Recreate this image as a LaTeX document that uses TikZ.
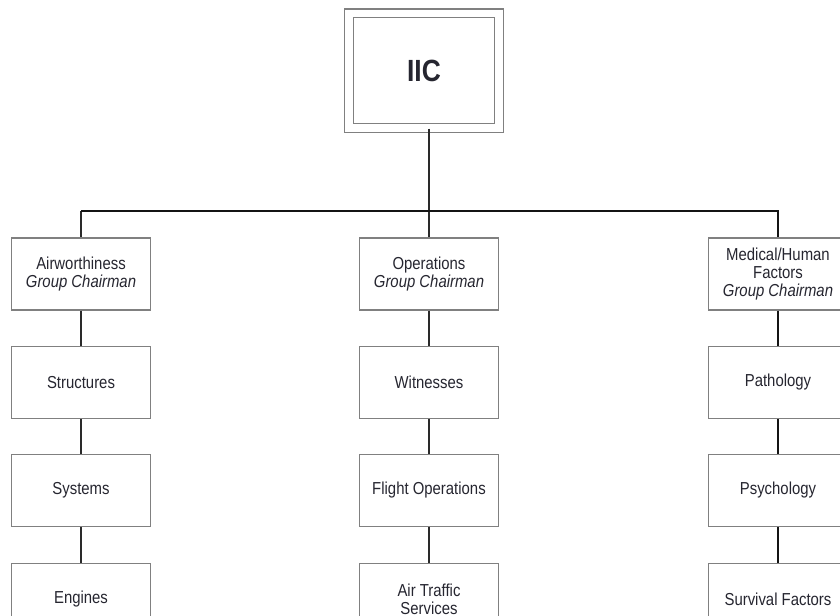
\documentclass[tikz,border=0pt]{standalone}
\usepackage{fontspec}
\setmainfont{Liberation Sans}[FakeStretch=0.86]
\definecolor{boxgray}{HTML}{808080}
\definecolor{txt}{HTML}{262630}
\definecolor{lnk}{HTML}{2A2A2A}
\begin{document}
\begin{tikzpicture}[x=0.75pt,y=-0.75pt,
  box/.style={draw=boxgray, line width=1.1pt, fill=white, minimum width=104pt, minimum height=54pt,
    inner sep=0pt, align=center, font=\fontsize{13}{13.8}\selectfont, text=txt},
  topbox/.style={draw=boxgray, line width=1.1pt, double=white, double distance=5.5pt,
    minimum width=112.5pt, minimum height=86pt, inner sep=0pt, text=txt,
    font=\fontsize{23}{26}\selectfont\bfseries},
  thinlink/.style={draw=lnk, line width=1.1pt},
  thicklink/.style={draw=black!92, line width=2.2pt}]
\useasboundingbox (0,0) rectangle (840,615);
\clip (0,0) rectangle (840,615);

\node[topbox] (iic) at (424,70.5) {IIC};

% left column
\node[box] (a1) at (81,274)   {Airworthiness\\\textit{Group Chairman}};
\node[box] (a2) at (81,382.5) {Structures};
\node[box] (a3) at (81,490.5) {Systems};
\node[box] (a4) at (81,599.5) {Engines};
% middle column
\node[box] (b1) at (429,274)   {Operations\\\textit{Group Chairman}};
\node[box] (b2) at (429,382.5) {Witnesses};
\node[box] (b3) at (429,490.5) {Flight Operations};
\node[box] (b4) at (429,599.5) {Air Traffic\\Services};
% right column
\node[box] (c1) at (778,274)   {Medical/Human\\Factors\\\textit{Group Chairman}};
\node[box] (c2) at (778,382.5) {Pathology};
\node[box] (c3) at (778,490.5) {Psychology};
\node[box] (c4) at (778,599.5) {Survival Factors};

\coordinate (busL) at (81,211);
\coordinate (busM) at (429,211);
\coordinate (busR) at (778,211);

% connectors
\draw[thinlink] (iic.south -| busM) -- (busM);
\draw[thinlink] (busM) -- (b1.north);
\draw[thinlink] (busL) -- (a1.north);
\draw[thicklink] (busL) -- (busR) -- (c1.north);

\draw[thinlink] (a1) -- (a2);
\draw[thinlink] (a2) -- (a3);
\draw[thinlink] (a3) -- (a4);
\draw[thinlink] (b1) -- (b2);
\draw[thinlink] (b2) -- (b3);
\draw[thinlink] (b3) -- (b4);
\draw[thicklink] (c1) -- (c2);
\draw[thicklink] (c2) -- (c3);
\draw[thicklink] (c3) -- (c4);
\end{tikzpicture}
\end{document}
